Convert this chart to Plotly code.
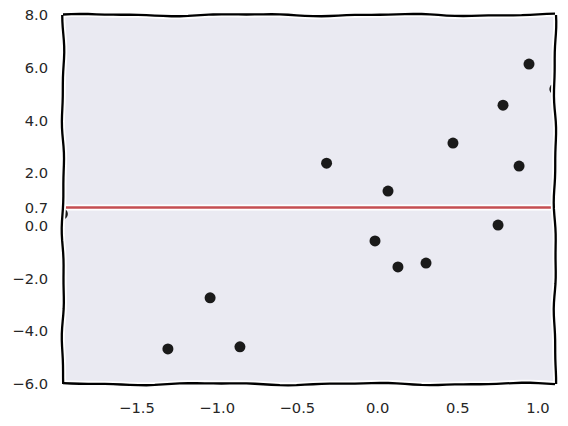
import numpy as np
import plotly.graph_objects as go

# Data
x_vals = [-1.965, -1.307, -1.044, -0.858, -0.318, -0.016, 0.065, 0.127, 0.302, 0.470, 0.751, 0.782, 0.882, 0.944, 1.105]
y_vals = [0.45, -4.67, -2.73, -4.59, 2.38, -0.57, 1.32, -1.56, -1.41, 3.14, 0.03, 4.58, 2.27, 6.14, 5.19]
hline_y = 0.7
x_range = [-1.961, 1.106]
y_range = [-6.0, 8.0]
y_ticks = [-6.0, -4.0, -2.0, 0.0, 0.7, 2.0, 4.0, 6.0, 8.0]
x_ticks = [-1.5, -1.0, -0.5, 0.0, 0.5, 1.0]

W, H = 568, 426
ml, mr, mt, mb = 63, 13, 15, 42
pw, ph = W - ml - mr, H - mt - mb

fig = go.Figure()

# red horizontal line with white halo (xkcd style)
fig.add_trace(go.Scatter(x=x_range, y=[hline_y, hline_y], mode="lines",
                         line=dict(color="white", width=6), hoverinfo="skip", showlegend=False))
fig.add_trace(go.Scatter(x=x_range, y=[hline_y, hline_y], mode="lines",
                         line=dict(color="#c44e52", width=2.5), showlegend=False))

fig.add_trace(go.Scatter(x=x_vals, y=y_vals, mode="markers",
                         marker=dict(color="#1a1a1a", size=11, line=dict(width=0)),
                         showlegend=False))

# wavy hand-drawn frame (decoration, paper coords)
def wavy(p0, p1, amp_px, horiz, phase, n=60):
    t = np.linspace(0, 1, n)
    pts = []
    for ti in t:
        off = amp_px * (np.sin(2 * np.pi * 3.2 * ti + phase) * 0.7 + np.sin(2 * np.pi * 7.1 * ti + phase * 2) * 0.3)
        if horiz:
            xx = p0[0] + (p1[0] - p0[0]) * ti
            yy = p0[1] + off / ph
        else:
            xx = p0[0] + off / pw
            yy = p0[1] + (p1[1] - p0[1]) * ti
        pts.append((xx, yy))
    return "M " + " L ".join(f"{a:.5f},{b:.5f}" for a, b in pts)

paths = [
    wavy((0, 1), (1, 1), 1.3, True, 0.3),
    wavy((0, 0), (1, 0), 1.3, True, 1.7),
    wavy((0, 0), (0, 1), 1.3, False, 2.5),
    wavy((1, 0), (1, 1), 1.3, False, 0.9),
]
shapes = []
for p in paths:
    shapes.append(dict(type="path", xref="paper", yref="paper", path=p,
                       line=dict(color="white", width=6), layer="above"))
for p in paths:
    shapes.append(dict(type="path", xref="paper", yref="paper", path=p,
                       line=dict(color="black", width=2.3), layer="above"))

fig.update_layout(
    width=W, height=H,
    margin=dict(l=ml, r=mr, t=mt, b=mb, autoexpand=False),
    paper_bgcolor="white",
    plot_bgcolor="#eaeaf2",
    font=dict(family="DejaVu Sans", size=14.7, color="#262626"),
    shapes=shapes,
    showlegend=False,
)
fig.update_xaxes(range=x_range, tickvals=x_ticks, ticktext=[f"{v:.1f}".replace("-", "\u2212") for v in x_ticks],
                 showgrid=False, zeroline=False, showline=False, ticks="", ticklen=0,
                 ticklabelstandoff=13, automargin=False)
fig.update_yaxes(range=y_range, tickvals=y_ticks, ticktext=[f"{v:.1f}".replace("-", "\u2212") for v in y_ticks],
                 showgrid=False, zeroline=False, showline=False, ticks="", ticklen=0,
                 ticklabelstandoff=14, automargin=False)

fig.write_html("out.html")
